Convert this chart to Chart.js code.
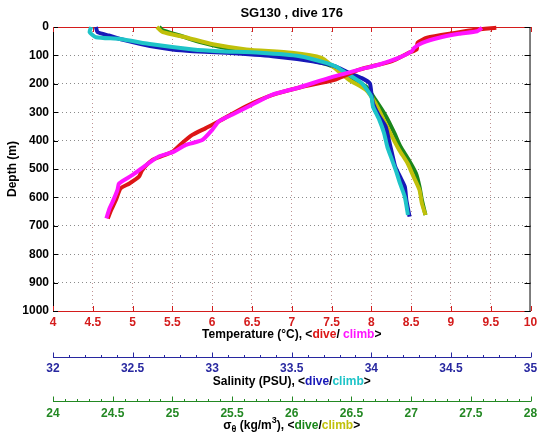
<!DOCTYPE html>
<html>
<head>
<meta charset="utf-8">
<script src="https://cdn.jsdelivr.net/npm/chart.js@4/dist/chart.umd.min.js"></script>
<style>
  body { margin: 0; background: #fff; }
  canvas { display: block; }
</style>
</head>
<body>
<canvas id="profileChart" width="543" height="442"></canvas>
<script>
// depth profiles (depth in m)
const tempDiveDepth = [3, 10, 21, 38, 56, 79, 91, 120, 150, 185, 213, 240, 280, 333, 356, 380, 409, 439, 468, 504, 527, 551, 568, 609, 645, 674];
const tempDive      = [9.57, 9.3, 9.05, 8.7, 8.58, 8.57, 8.47, 8.26, 7.85, 7.55, 7.1, 6.75, 6.42, 6.08, 5.92, 5.75, 5.62, 5.5, 5.25, 5.12, 5.08, 4.96, 4.85, 4.79, 4.73, 4.69];
const tempClimbDepth = [3, 15, 24, 38, 56, 73, 85, 108, 132, 150, 179, 213, 239, 274, 309, 333, 362, 398, 415, 439, 456, 486, 521, 551, 574, 615, 639, 674];
const tempClimb      = [9.39, 9.33, 9.1, 8.85, 8.64, 8.54, 8.51, 8.35, 8.10, 7.85, 7.47, 7.09, 6.75, 6.5, 6.25, 6.08, 6.0, 5.875, 5.67, 5.52, 5.33, 5.17, 5.0, 4.83, 4.81, 4.75, 4.71, 4.67];

const salDiveDepth = [0, 18, 30, 48, 67, 79, 85, 91, 103, 121, 138, 162, 180, 198, 233, 268, 315, 351, 398, 445, 492, 527, 562, 609, 668];
const salDive      = [32.27, 32.28, 32.35, 32.46, 32.61, 32.75, 32.88, 33.09, 33.38, 33.63, 33.77, 33.86, 33.94, 33.99, 34.0, 34.01, 34.05, 34.09, 34.11, 34.13, 34.15, 34.18, 34.21, 34.22, 34.24];
const salClimbDepth = [0, 18, 36, 42, 61, 79, 85, 91, 103, 127, 140, 162, 198, 245, 280, 327, 374, 421, 468, 515, 551, 598, 662];
const salClimb      = [32.24, 32.23, 32.27, 32.42, 32.62, 32.88, 33.04, 33.30, 33.55, 33.72, 33.78, 33.84, 33.94, 34.0, 34.01, 34.05, 34.08, 34.10, 34.13, 34.16, 34.18, 34.21, 34.23];

const sigDiveDepth = [0, 12, 30, 55, 79, 91, 103, 121, 142, 180, 209, 256, 315, 374, 421, 468, 515, 562, 609, 662];
const sigDive      = [24.89, 24.92, 25.06, 25.25, 25.50, 25.73, 26.0, 26.2, 26.36, 26.48, 26.62, 26.70, 26.79, 26.86, 26.91, 26.98, 27.04, 27.07, 27.09, 27.12];
const sigClimbDepth = [0, 18, 36, 61, 79, 91, 109, 138, 186, 221, 268, 327, 386, 433, 480, 527, 574, 621, 662];
const sigClimb      = [24.87, 24.92, 25.11, 25.34, 25.62, 26.0, 26.25, 26.34, 26.48, 26.62, 26.70, 26.77, 26.84, 26.90, 26.97, 27.02, 27.07, 27.09, 27.12];

const chartTitle = 'SG130 , dive 176';

const RED = '#dd1616', MAG = '#ff14ff';
const BLUE = '#1818b8', CYAN = '#1ec4c8';
const GREEN = '#1a861a', OLIVE = '#c0c00a';
const TEMP_AX = '#d41c1c', SAL_AX = '#2828a0', SIG_AX = '#238823';
const FONT = "'Liberation Sans', Arial, Helvetica, sans-serif";

function pts(depths, vals) {
  return depths.map((d, i) => ({x: vals[i], y: d}));
}

function trace(data, color, axis, order) {
  return {
    data: data,
    xAxisID: axis,
    yAxisID: 'y',
    borderColor: color,
    backgroundColor: color,
    borderWidth: 4,
    pointRadius: 0,
    showLine: true,
    fill: false,
    tension: 0.2,
    clip: 3,
    order: order
  };
}

// draws a string made of coloured pieces, centred on cx
function drawPieces(ctx, pieces, cx, cy) {
  let total = 0;
  pieces.forEach(p => {
    ctx.font = p.font;
    p.w = ctx.measureText(p.text).width;
    total += p.w;
  });
  let x = cx - total / 2;
  ctx.textBaseline = 'middle';
  ctx.textAlign = 'left';
  pieces.forEach(p => {
    ctx.font = p.font;
    ctx.fillStyle = p.color;
    ctx.fillText(p.text, x, cy + (p.dy || 0));
    x += p.w;
  });
}

const decor = {
  id: 'decor',
  beforeDatasetsDraw(chart) {
    const {ctx, chartArea: a, scales} = chart;
    ctx.save();
    ctx.lineWidth = 1;

    ctx.strokeStyle = '#000';
    ctx.beginPath();
    ctx.moveTo(a.right - 0.5, a.top);
    ctx.lineTo(a.right - 0.5, a.bottom);
    ctx.stroke();
    ctx.strokeStyle = TEMP_AX;
    ctx.beginPath();
    ctx.moveTo(a.left, a.top + 0.5);
    ctx.lineTo(a.right, a.top + 0.5);
    ctx.stroke();

    // depth ticks, inward on both sides
    ctx.strokeStyle = '#000';
    scales.y.ticks.forEach(t => {
      const y = Math.round(scales.y.getPixelForValue(t.value)) + 0.5;
      ctx.beginPath();
      ctx.moveTo(a.left, y); ctx.lineTo(a.left + 5, y);
      ctx.moveTo(a.right, y); ctx.lineTo(a.right - 6, y);
      ctx.stroke();
    });

    // temperature ticks, inward top and bottom
    ctx.strokeStyle = TEMP_AX;
    scales.x.ticks.forEach(t => {
      const x = Math.round(scales.x.getPixelForValue(t.value)) + 0.5;
      ctx.beginPath();
      ctx.moveTo(x, a.bottom); ctx.lineTo(x, a.bottom - 5);
      ctx.moveTo(x, a.top); ctx.lineTo(x, a.top + 5);
      ctx.stroke();
    });

    // salinity and sigma axes: ticks point up from the axis line
    [[scales.xs, SAL_AX], [scales.xd, SIG_AX]].forEach(([s, col]) => {
      ctx.strokeStyle = col;
      const y0 = Math.round(s.top) + 0.5;
      const n = Math.round((s.max - s.min) * 10);
      for (let i = 0; i <= n; i++) {
        const v = s.min + i / 10;
        const x = Math.round(s.getPixelForValue(v)) + 0.5;
        const len = (i % 5 === 0) ? 5 : 2.5;
        ctx.beginPath();
        ctx.moveTo(x, y0);
        ctx.lineTo(x, y0 - len);
        ctx.stroke();
      }
    });
    ctx.restore();
  },
  afterDraw(chart) {
    const {ctx, chartArea: a, scales} = chart;
    const cx = (a.left + a.right) / 2;
    const bold = 'bold 12px ' + FONT;
    const small = 'bold 9px ' + FONT;
    ctx.save();

    drawPieces(ctx, [
      {text: 'Temperature (\u00b0C), <', font: bold, color: '#000'},
      {text: 'dive', font: bold, color: RED},
      {text: '/ ', font: bold, color: '#000'},
      {text: 'climb', font: bold, color: MAG},
      {text: '>', font: bold, color: '#000'}
    ], cx, scales.x.top + 24);

    drawPieces(ctx, [
      {text: 'Salinity (PSU), <', font: bold, color: '#000'},
      {text: 'dive', font: bold, color: BLUE},
      {text: '/', font: bold, color: '#000'},
      {text: 'climb', font: bold, color: CYAN},
      {text: '>', font: bold, color: '#000'}
    ], cx, scales.xs.top + 25);

    drawPieces(ctx, [
      {text: '\u03c3', font: bold, color: '#000'},
      {text: '\u03b8', font: small, color: '#000', dy: 4},
      {text: ' (kg/m', font: bold, color: '#000'},
      {text: '3', font: small, color: '#000', dy: -5},
      {text: '), <', font: bold, color: '#000'},
      {text: 'dive', font: bold, color: GREEN},
      {text: '/', font: bold, color: '#000'},
      {text: 'climb', font: bold, color: OLIVE},
      {text: '>', font: bold, color: '#000'}
    ], cx, scales.xd.top + 25);

    // depth axis title
    ctx.translate(13, (a.top + a.bottom) / 2);
    ctx.rotate(-Math.PI / 2);
    ctx.font = bold;
    ctx.fillStyle = '#000';
    ctx.textAlign = 'center';
    ctx.textBaseline = 'middle';
    ctx.fillText('Depth (m)', 0, 0);
    ctx.restore();
  }
};

const edgeless = (col, lo, hi) => ctx =>
  (ctx.tick && (ctx.tick.value === lo || ctx.tick.value === hi)) ? 'rgba(0,0,0,0)' : col;

const tickFont = {family: FONT, size: 12, weight: 'bold'};

const config = {
  type: 'scatter',
  data: {
    datasets: [
      trace(pts(tempClimbDepth, tempClimb), MAG, 'x', 1),
      trace(pts(tempDiveDepth, tempDive), RED, 'x', 2),
      trace(pts(salClimbDepth, salClimb), CYAN, 'xs', 3),
      trace(pts(salDiveDepth, salDive), BLUE, 'xs', 4),
      trace(pts(sigClimbDepth, sigClimb), OLIVE, 'xd', 5),
      trace(pts(sigDiveDepth, sigDive), GREEN, 'xd', 6)
    ]
  },
  options: {
    responsive: false,
    animation: false,
    events: [],
    layout: {padding: {left: 0, right: 11, top: 0, bottom: 0}},
    plugins: {
      legend: {display: false},
      tooltip: {enabled: false},
      title: {
        display: true,
        text: chartTitle,
        fullSize: false,
        color: '#000',
        font: {family: FONT, size: 13, weight: 'bold', lineHeight: 1.2},
        padding: {top: 5.7, bottom: 5.7}
      }
    },
    scales: {
      y: {
        type: 'linear',
        position: 'left',
        reverse: true,
        min: 0,
        max: 1000,
        ticks: {stepSize: 100, color: '#000', font: tickFont, padding: 4, callback: v => String(v)},
        grid: {color: edgeless('rgba(110,110,110,0.8)', 0, 1000), drawTicks: false, lineWidth: 1},
        border: {color: '#000', dash: [1, 3]},
        afterFit: s => { s.width = 53; }
      },
      x: {
        type: 'linear',
        position: 'bottom',
        weight: 0,
        min: 4,
        max: 10,
        ticks: {stepSize: 0.5, color: TEMP_AX, font: tickFont, padding: 4, maxRotation: 0, autoSkip: false, callback: v => String(v)},
        grid: {color: edgeless('rgba(175,120,120,0.8)', 4, 10), drawTicks: false, lineWidth: 1},
        border: {color: TEMP_AX, dash: [1, 3]},
        afterFit: s => { s.height = 46; }
      },
      xs: {
        type: 'linear',
        position: 'bottom',
        weight: 1,
        min: 32,
        max: 35,
        ticks: {stepSize: 0.5, color: SAL_AX, font: tickFont, padding: 4.5, maxRotation: 0, autoSkip: false, callback: v => String(v)},
        grid: {display: false, drawTicks: false},
        border: {color: SAL_AX},
        afterFit: s => { s.height = 44; }
      },
      xd: {
        type: 'linear',
        position: 'bottom',
        weight: 2,
        min: 24,
        max: 28,
        ticks: {stepSize: 0.5, color: SIG_AX, font: tickFont, padding: 5.8, maxRotation: 0, autoSkip: false, callback: v => String(v)},
        grid: {display: false, drawTicks: false},
        border: {color: SIG_AX},
        afterFit: s => { s.height = 41; }
      }
    }
  },
  plugins: [decor]
};

const profileCanvas = document.getElementById('profileChart').getContext('2d');
const profileChart = new Chart(profileCanvas, config);
</script>
</body>
</html>
